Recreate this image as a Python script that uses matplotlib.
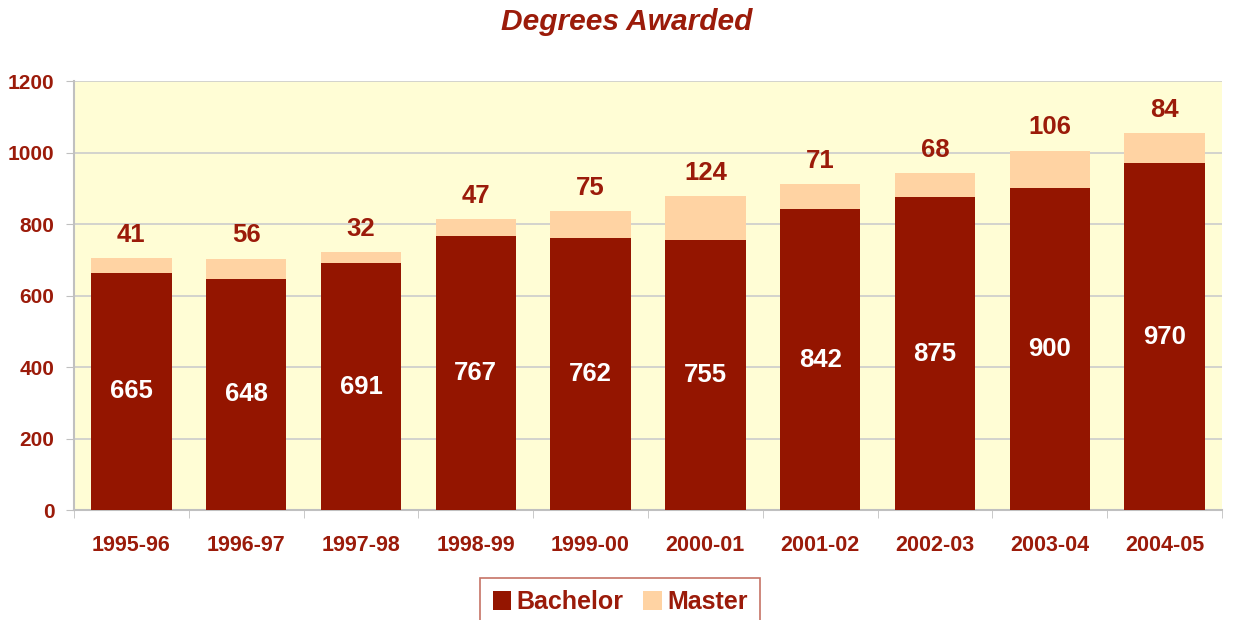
import numpy as np
import matplotlib.pyplot as plt
from matplotlib.patches import Patch

years = ["1995-96", "1996-97", "1997-98", "1998-99", "1999-00",
         "2000-01", "2001-02", "2002-03", "2003-04", "2004-05"]
bachelor = [665, 648, 691, 767, 762, 755, 842, 875, 900, 970]
master = [41, 56, 32, 47, 75, 124, 71, 68, 106, 84]

red = "#941500"
peach = "#FFD3A3"
txt = "#9B1B0A"
plt.rcParams['font.family'] = ['Liberation Sans', 'DejaVu Sans']

fig = plt.figure(figsize=(12.33, 6.2), dpi=100)
ax = fig.add_axes([0.060, 0.177, 0.931, 0.692])
ax.set_facecolor("#FFFDD5")

x = np.arange(len(years))
b1 = ax.bar(x, bachelor, 0.7, color=red, zorder=3)
b2 = ax.bar(x, master, 0.7, bottom=bachelor, color=peach, zorder=3)

for i in range(len(years)):
    ax.text(x[i], bachelor[i] / 2, str(bachelor[i]), ha="center", va="center",
            color="white", fontsize=18.5, fontweight="bold", zorder=4)
    ax.annotate(str(master[i]), (x[i], bachelor[i] + master[i]), xytext=(0, 8),
                textcoords="offset points", ha="center", va="bottom",
                color=txt, fontsize=18.5, fontweight="bold")

ax.set_xlim(-0.5, len(years) - 0.5)
ax.set_ylim(0, 1200)
ax.set_yticks(range(0, 1201, 200))
ax.set_xticks(x)
ax.set_xticklabels(years)
ax.set_xticks(np.arange(-0.5, len(years)), minor=True)
ax.tick_params(axis="x", which="major", length=0, pad=18, labelsize=15.5, labelcolor=txt)
ax.tick_params(axis="x", which="minor", length=6, color="#C0C0C0")
ax.tick_params(axis="y", length=6, color="#C0C0C0", pad=8, labelsize=15, labelcolor=txt)
for lab in ax.get_xticklabels() + ax.get_yticklabels():
    lab.set_fontweight("bold")

ax.grid(axis="y", color="#CCCCCC", linewidth=1.2, zorder=0)
for s in ["top", "right"]:
    ax.spines[s].set_visible(False)
for s in ["left", "bottom"]:
    ax.spines[s].set_color("#C0C0C0")
    ax.spines[s].set_linewidth(1.5)

fig.text(0.5085, 0.9645, "Degrees Awarded", fontsize=21.5, fontweight="bold",
         fontstyle="italic", color=txt, ha="center", va="center")

handles = [Patch(facecolor=red, label="Bachelor"), Patch(facecolor=peach, label="Master")]
leg = fig.legend(handles=handles, loc="upper center", bbox_to_anchor=(0.503, 0.068),
                 ncol=2, fontsize=18, frameon=True, fancybox=False, borderaxespad=0,
                 handlelength=0.75, handleheight=0.75, handletextpad=0.2,
                 columnspacing=0.8, borderpad=0.5)
leg.get_frame().set_edgecolor("#B85040")
leg.get_frame().set_linewidth(1.2)
for t in leg.get_texts():
    t.set_color(txt)
    t.set_fontweight("bold")

fig.savefig("out.png", dpi=100)
